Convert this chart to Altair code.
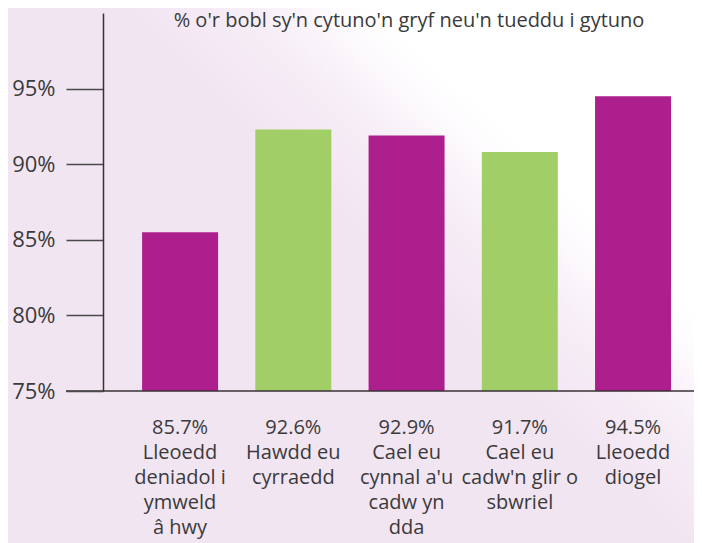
import altair as alt
import pandas as pd

# ---- data ----
categories = ["Lleoedd deniadol i ymweld â hwy", "Hawdd eu cyrraedd",
              "Cael eu cynnal a'u cadw yn dda", "Cael eu cadw'n glir o sbwriel",
              "Lleoedd diogel"]
label_lines = ["85.7%\nLleoedd\ndeniadol i\nymweld\nâ hwy",
               "92.6%\nHawdd eu\ncyrraedd",
               "92.9%\nCael eu\ncynnal a'u\ncadw yn\ndda",
               "91.7%\nCael eu\ncadw'n glir o\nsbwriel",
               "94.5%\nLleoedd\ndiogel"]
bar_values = [85.5, 92.3, 91.9, 90.8, 94.5]
groups = ["a", "b", "a", "b", "a"]
y_ticks = [75, 80, 85, 90, 95]
y_min, y_max = 75, 100
title_text = "% o'r bobl sy'n cytuno'n gryf neu'n tueddu i gytuno"

df = pd.DataFrame({"cat": categories, "value": bar_values, "grp": groups,
                   "label": label_lines, "base": [y_min] * len(categories)})
one = pd.DataFrame({"t": [title_text]})

W, H = 591, 378
FONT = "Open Sans"
TXT = "#3a3a3a"
PINK = "#f2e5f2"

xscale = alt.Scale(domain=categories, paddingInner=0.329, paddingOuter=0.274, align=0.63)

bg = alt.Chart(one).mark_rect(
    fill=alt.Gradient(
        gradient="linear",
        stops=[alt.GradientStop(color=PINK, offset=0),
               alt.GradientStop(color="#f6edf6", offset=0.45),
               alt.GradientStop(color="#fefcfe", offset=0.85),
               alt.GradientStop(color="#ffffff", offset=1)],
        x1=0.40, y1=0.28, x2=0.62, y2=0.10),
).encode(x=alt.value(-95), x2=alt.value(W), y=alt.value(-5), y2=alt.value(H + 152))

bars = alt.Chart(df).mark_bar(size=76).encode(
    x=alt.X("cat:N", scale=xscale, axis=None, sort=categories),
    y=alt.Y("value:Q", scale=alt.Scale(domain=[y_min, y_max], nice=False, zero=False),
            axis=alt.Axis(values=y_ticks, labelExpr="datum.value + '%'",
                          tickSize=37, tickWidth=1.5, tickColor="#4a4a4a",
                          domainColor="#3a3036", domainWidth=1.5,
                          labelPadding=11, labelFontSize=22, labelFont=FONT,
                          labelColor=TXT, grid=False, title=None, zindex=1)),
    y2="base:Q",
    color=alt.Color("grp:N", scale=alt.Scale(domain=["a", "b"],
                                             range=["#ae1f8e", "#a1ce67"]),
                    legend=None),
)

baseline = alt.Chart(one).mark_rule(color="#3a3036", strokeWidth=1.5).encode(
    x=alt.value(-37), x2=alt.value(W), y=alt.value(H))

labels = alt.Chart(df).mark_text(
    font=FONT, fontSize=20, color=TXT, lineBreak="\n", lineHeight=25,
    baseline="alphabetic", align="center",
).encode(x=alt.X("cat:N", scale=xscale, sort=categories),
         y=alt.value(H + 43), text="label:N")

title = alt.Chart(one).mark_text(
    font=FONT, fontSize=20, color=TXT, baseline="alphabetic", align="center",
).encode(x=alt.value(306), y=alt.value(14), text="t:N")

chart = alt.layer(bg, bars, baseline, labels, title).properties(
    width=W, height=H,
    autosize=alt.AutoSizeParams(type="none"),
    padding={"left": 95, "top": 5, "right": 0, "bottom": 152},
    background=PINK,
).configure_view(stroke=None)

chart.save("out.html", embed_options={"renderer": "svg", "actions": False})
